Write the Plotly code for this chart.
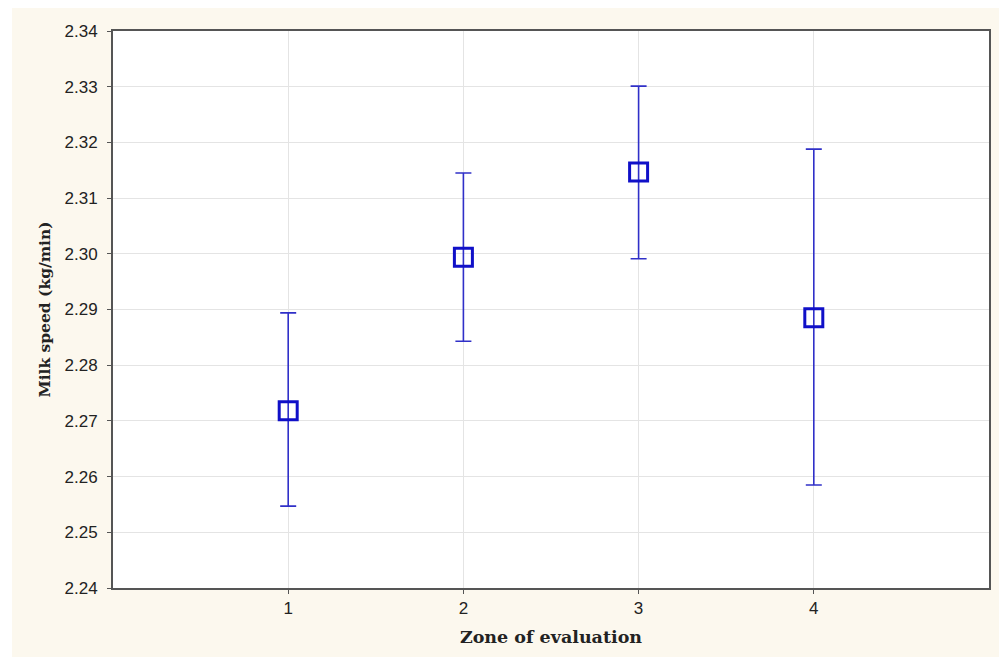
import plotly.graph_objects as go

zones = [1, 2, 3, 4]
means = [2.2718, 2.2994, 2.3147, 2.2885]
upper = [2.2894, 2.3145, 2.3301, 2.3188]
lower = [2.2547, 2.2843, 2.2991, 2.2585]
y_ticks = [2.24, 2.25, 2.26, 2.27, 2.28, 2.29, 2.30, 2.31, 2.32, 2.33, 2.34]

err_plus = [u - m for u, m in zip(upper, means)]
err_minus = [m - l for m, l in zip(means, lower)]

fig = go.Figure()
fig.add_trace(go.Scatter(
    x=zones, y=means, mode="markers",
    marker=dict(symbol="square-open", size=18, color="#1010c8",
                line=dict(width=3, color="#1010c8")),
    error_y=dict(type="data", symmetric=False, array=err_plus, arrayminus=err_minus,
                 color="#3030c8", thickness=1.6, width=8),
    showlegend=False,
))

# page body adds an 8px offset
W, H = 999, 649
l, r, t, b = 105, 18, 23, 69
pw, ph = W - l - r, H - t - b

def px(x):
    return (x - l) / pw

def py(y):
    return 1 - (y - t) / ph

fig.add_shape(type="rect", xref="paper", yref="paper",
              x0=px(0), x1=px(4), y0=py(H), y1=py(0),
              fillcolor="white", line_width=0, layer="below")

fig.update_layout(
    width=W, height=H,
    margin=dict(l=l, r=r, t=t, b=b),
    paper_bgcolor="#fcf8ee",
    plot_bgcolor="white",
    font=dict(family="Liberation Sans, Arial", size=17, color="#222"),
)
fig.update_xaxes(
    range=[0, 5], tickvals=zones, ticktext=[str(z) for z in zones],
    showgrid=True, gridcolor="#e4e4e4", gridwidth=1.2,
    showline=True, linecolor="#555", linewidth=2, mirror=True,
    ticks="outside", ticklen=4, tickcolor="#555",
    zeroline=False,
    title=dict(text="<b>Zone of evaluation</b>",
               font=dict(family="DejaVu Serif", size=17.5, color="#222"),
               standoff=13),
)
fig.update_yaxes(
    range=[2.24, 2.34], tickvals=y_ticks, ticktext=[f"{v:.2f}" for v in y_ticks],
    showgrid=True, gridcolor="#e4e4e4", gridwidth=1.2,
    showline=True, linecolor="#555", linewidth=2, mirror=True,
    ticks="outside", ticklen=4, tickcolor="#555", ticklabelstandoff=6,
    zeroline=False,
    title=dict(text="<b>Milk speed (kg/min)</b>",
               font=dict(family="DejaVu Serif", size=15.5, color="#222"),
               standoff=10),
)

fig.write_html("out.html")
